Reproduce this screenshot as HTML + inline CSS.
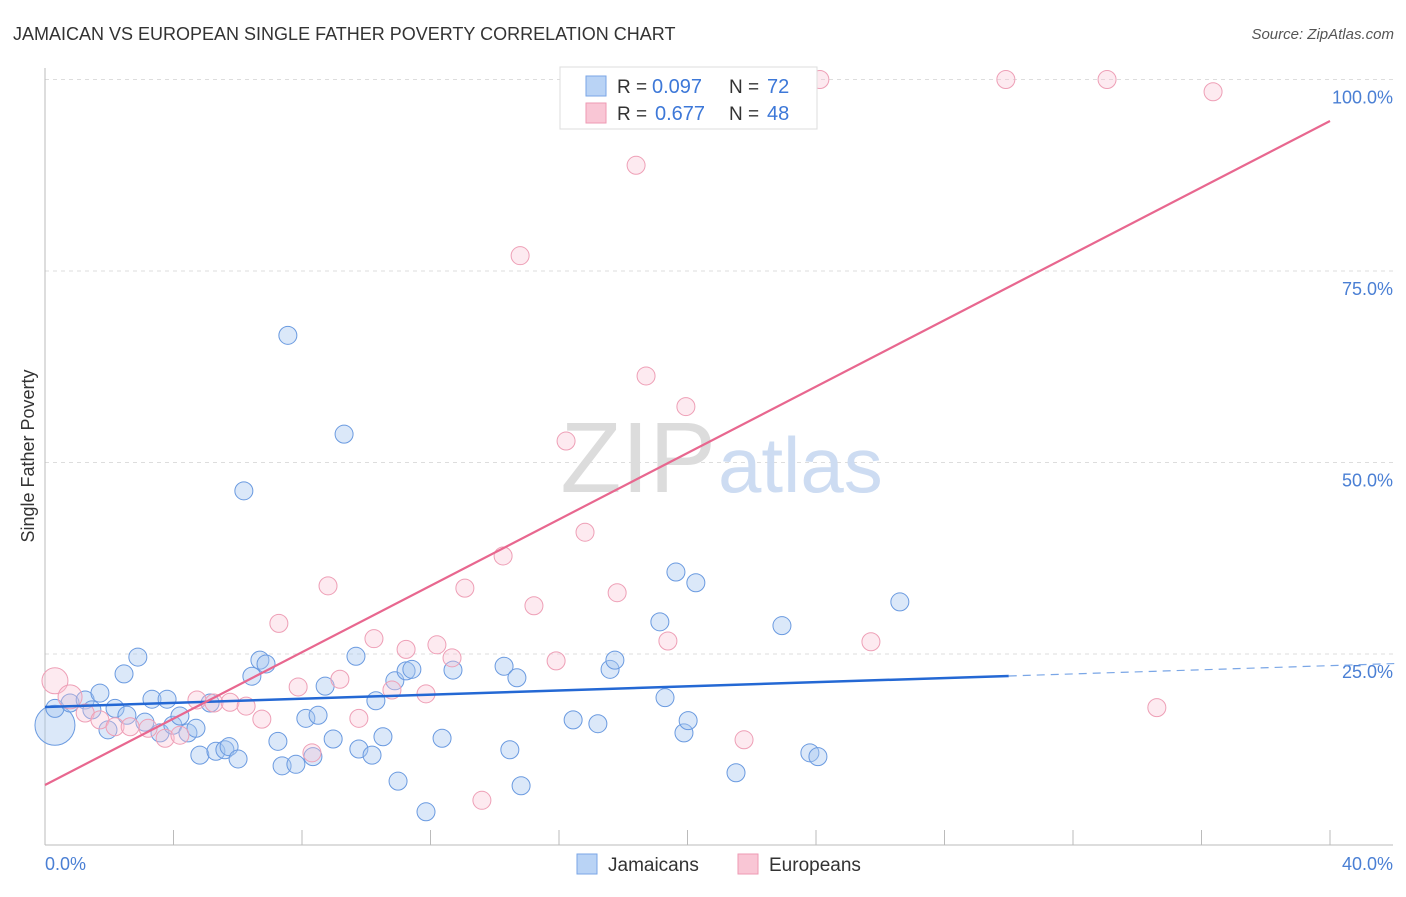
<!DOCTYPE html>
<html><head><meta charset="utf-8"><style>
body{margin:0;background:#fff;font-family:"Liberation Sans",sans-serif}
svg text{font-family:"Liberation Sans",sans-serif}
</style></head><body>
<svg width="1406" height="892">
<text x="13" y="40" font-size="18" fill="#333">JAMAICAN VS EUROPEAN SINGLE FATHER POVERTY CORRELATION CHART</text>
<text x="1394" y="39" font-size="15" fill="#555" font-style="italic" text-anchor="end">Source: ZipAtlas.com</text>
<g id="grid"></g>
<text x="716" y="492" font-size="100" font-family="Liberation Serif" fill="#dcdcdc" text-anchor="end">ZIP</text>
<text x="718" y="492" font-size="78" fill="#cddcf2">atlas</text>
<g id="marks"></g>
<text transform="translate(34,456) rotate(-90)" font-size="18" fill="#333" text-anchor="middle">Single Father Poverty</text>
<text x="45" y="870" font-size="18" fill="#4a7fd4">0.0%</text>
<text x="1393" y="870" font-size="18" fill="#4a7fd4" text-anchor="end">40.0%</text>
<g>
<rect x="560" y="67" width="257" height="62" fill="#fff" stroke="#ddd"/>
<rect x="586" y="76" width="20" height="20" fill="#b9d3f5" stroke="#7aa6e6"/>
<rect x="586" y="103" width="20" height="20" fill="#f9c6d5" stroke="#ee9ab3"/>
<text x="617" y="93" font-size="19" fill="#333">R =</text>
<text x="652" y="93" font-size="20" fill="#3d78d8">0.097</text>
<text x="729" y="93" font-size="19" fill="#333">N =</text>
<text x="767" y="93" font-size="20" fill="#3d78d8">72</text>
<text x="617" y="120" font-size="19" fill="#333">R =</text>
<text x="655" y="120" font-size="20" fill="#3d78d8">0.677</text>
<text x="729" y="120" font-size="19" fill="#333">N =</text>
<text x="767" y="120" font-size="20" fill="#3d78d8">48</text>
</g>
<g>
<rect x="577" y="854" width="20" height="20" fill="#b9d3f5" stroke="#7aa6e6"/>
<text x="608" y="871" font-size="19" fill="#333">Jamaicans</text>
<rect x="738" y="854" width="20" height="20" fill="#f9c6d5" stroke="#ee9ab3"/>
<text x="769" y="871" font-size="19" fill="#333">Europeans</text>
</g>
</svg>
<script>
const yTicks=[25,50,75,100];
const yTickLabels=["25.0%","50.0%","75.0%","100.0%"];
const xTicks=[4,8,12,16,20,24,28,32,36,40];
const blueX=[0.31,0.31,0.78,1.25,1.71,1.46,1.96,2.18,2.46,2.55,2.89,3.11,3.33,3.58,3.80,3.98,4.20,4.45,4.70,4.82,5.14,5.32,5.60,5.73,6.01,6.19,6.44,6.69,6.88,7.25,7.38,7.56,7.81,8.12,8.34,8.50,8.72,8.97,9.31,9.68,9.77,10.18,10.30,10.52,10.89,10.99,11.24,11.42,11.86,12.36,12.70,14.29,14.47,14.69,14.82,16.44,17.21,17.59,17.74,19.14,19.30,19.64,19.89,20.02,20.26,21.51,22.94,23.81,24.06,26.61];
const blueY=[15.7,17.9,18.6,19.0,19.9,17.7,15.1,17.9,22.4,17.0,24.6,16.1,19.1,14.7,19.1,15.7,16.9,14.7,15.3,11.8,18.6,12.3,12.5,12.9,11.3,46.3,22.1,24.2,23.7,13.6,10.4,66.6,10.6,16.6,11.6,17.0,20.8,13.9,53.7,24.7,12.6,11.8,18.9,14.2,21.5,8.4,22.8,23.0,4.4,14.0,22.9,23.4,12.5,21.9,7.8,16.4,15.9,23.0,24.2,29.2,19.3,35.7,14.7,16.3,34.3,9.5,28.7,12.1,11.6,31.8];
const pinkX=[0.31,0.78,1.25,1.71,2.18,2.65,3.21,3.74,4.20,4.73,5.26,5.76,6.26,6.75,7.28,7.88,8.31,8.81,9.18,9.77,10.24,10.80,11.24,11.86,12.20,12.67,13.07,13.60,14.26,14.79,15.22,15.91,16.22,16.81,17.81,18.40,18.71,19.39,19.95,20.92,21.76,24.12,25.71,29.91,33.06,34.61,36.36];
const pinkY=[21.5,19.4,17.3,16.4,15.5,15.5,15.3,14.0,14.4,19.0,18.6,18.7,18.2,16.5,29.0,20.7,12.1,33.9,21.7,16.6,27.0,20.3,25.6,19.8,26.2,24.5,33.6,5.9,37.8,77.0,31.3,24.1,52.8,40.9,33.0,88.8,61.3,26.7,57.3,100,13.8,100,26.6,100,100,18.0,98.4];
const blueTrend=[18.08,0.135];
const pinkTrend=[7.9,2.167];
const X=v=>45+v*32.125, Y=v=>845.5-v*7.66;
const NS="http://www.w3.org/2000/svg";
function mk(t,a,p){const e=document.createElementNS(NS,t);for(const k in a)e.setAttribute(k,a[k]);p.appendChild(e);return e;}
const g=document.getElementById('grid');
yTicks.forEach((t,i)=>{
 const l=mk('line',{x1:45,x2:1393,y1:Y(t),y2:Y(t),stroke:'#ddd','stroke-dasharray':'4,4'},g);
 
 
 const tx=mk('text',{x:1393,y:Y(t)+24,'font-size':18,fill:'#4a7fd4','text-anchor':'end'},g);
 tx.textContent=yTickLabels[i];
 
 
});
const ax=mk('line',{x1:45,x2:45,y1:68,y2:845,stroke:'#bbb'},g);


const bx=mk('line',{x1:45,x2:1393,y1:845,y2:845,stroke:'#bbb'},g);


xTicks.forEach(t=>{const l=mk('line',{x1:X(t),x2:X(t),y1:830,y2:845,stroke:'#bbb'},g);
 
 });
const m=document.getElementById('marks');
blueX.forEach((x,i)=>{const c=mk('circle',{cx:X(x),cy:Y(blueY[i]),r:i==0?20:9,fill:'rgba(165,198,240,0.4)',stroke:'#6a9ae0','stroke-width':1},m);
 
 });
pinkX.forEach((x,i)=>{const c=mk('circle',{cx:X(x),cy:Y(pinkY[i]),r:i==0?13:(i==1?12:9),fill:'rgba(248,195,212,0.35)',stroke:'#ee9fb6','stroke-width':1},m);
 
 });
const b1=mk('line',{x1:X(0),y1:Y(blueTrend[0]),x2:X(30),y2:Y(blueTrend[0]+30*blueTrend[1]),stroke:'#2468d4','stroke-width':2.5},m);


const b2=mk('line',{x1:X(30),y1:Y(blueTrend[0]+30*blueTrend[1]),x2:X(42),y2:Y(blueTrend[0]+42*blueTrend[1]),stroke:'#7aa6e6','stroke-width':1.2,'stroke-dasharray':'8,6'},m);


const p1=mk('line',{x1:X(0),y1:Y(pinkTrend[0]),x2:X(40),y2:Y(pinkTrend[0]+40*pinkTrend[1]),stroke:'#e8678f','stroke-width':2.2},m);


</script>
</body></html>
